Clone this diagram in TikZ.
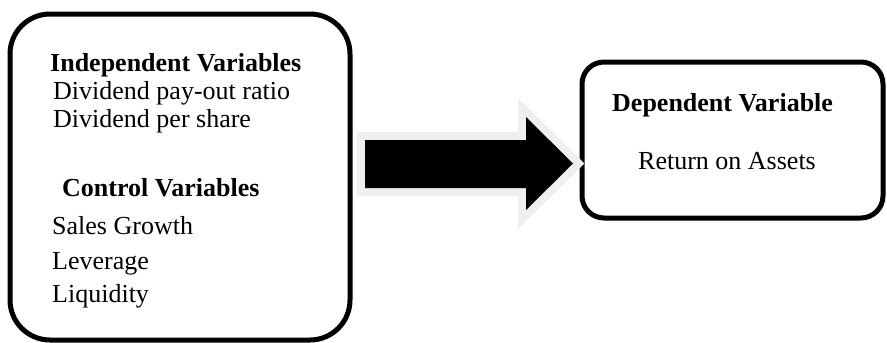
\documentclass[tikz,border=0pt]{standalone}
\usepackage{fontspec}
\setmainfont{Liberation Serif}
\usepackage{xcolor}
\definecolor{halo}{HTML}{EFEFEF}
\tikzset{
  varbox/.style={draw, line width=5, rounded corners=#1, inner sep=0},
  varhead/.style={anchor=base west, inner sep=0, font=\fontsize{26}{30}\selectfont\bfseries},
  varitem/.style={anchor=base west, inner sep=0, font=\fontsize{26}{30}\selectfont},
}
\begin{document}
\begin{tikzpicture}[x=1pt, y=-1pt]
\useasboundingbox (0,0) rectangle (887,343);

\node[varbox=40, minimum width=340, minimum height=326] (indep) at (180,177) {};
\node[varbox=22, minimum width=301, minimum height=156] (dep) at (732.5,140) {};

\node[varhead] (indephead) at (50,71) {Independent Variables};
\node[varitem] (payout) at (53,99) {Dividend pay-out ratio};
\node[varitem] (dps) at (53,127) {Dividend per share};
\node[varhead] (ctrlhead) at (62,196) {Control Variables};
\node[varitem] (growth) at (52,234) {Sales Growth};
\node[varitem] (lev) at (52,269) {Leverage};
\node[varitem] (liq) at (52,302) {Liquidity};

\node[varhead] (dephead) at (612,111) {Dependent Variable};
\node[varitem] (roa) at (638,169) {Return on Assets};

\coordinate (A1) at (365,140);
\coordinate (A2) at (526,140);
\coordinate (A3) at (526,117);
\coordinate (A4) at (573,163.5);
\coordinate (A5) at (526,210);
\coordinate (A6) at (526,188);
\coordinate (A7) at (365,188);
\draw[halo, line width=16, line join=miter] (A1) -- (A2) -- (A3) -- (A4) -- (A5) -- (A6) -- (A7) -- cycle;
\fill[black] (A1) -- (A2) -- (A3) -- (A4) -- (A5) -- (A6) -- (A7) -- cycle;
\end{tikzpicture}
\end{document}
